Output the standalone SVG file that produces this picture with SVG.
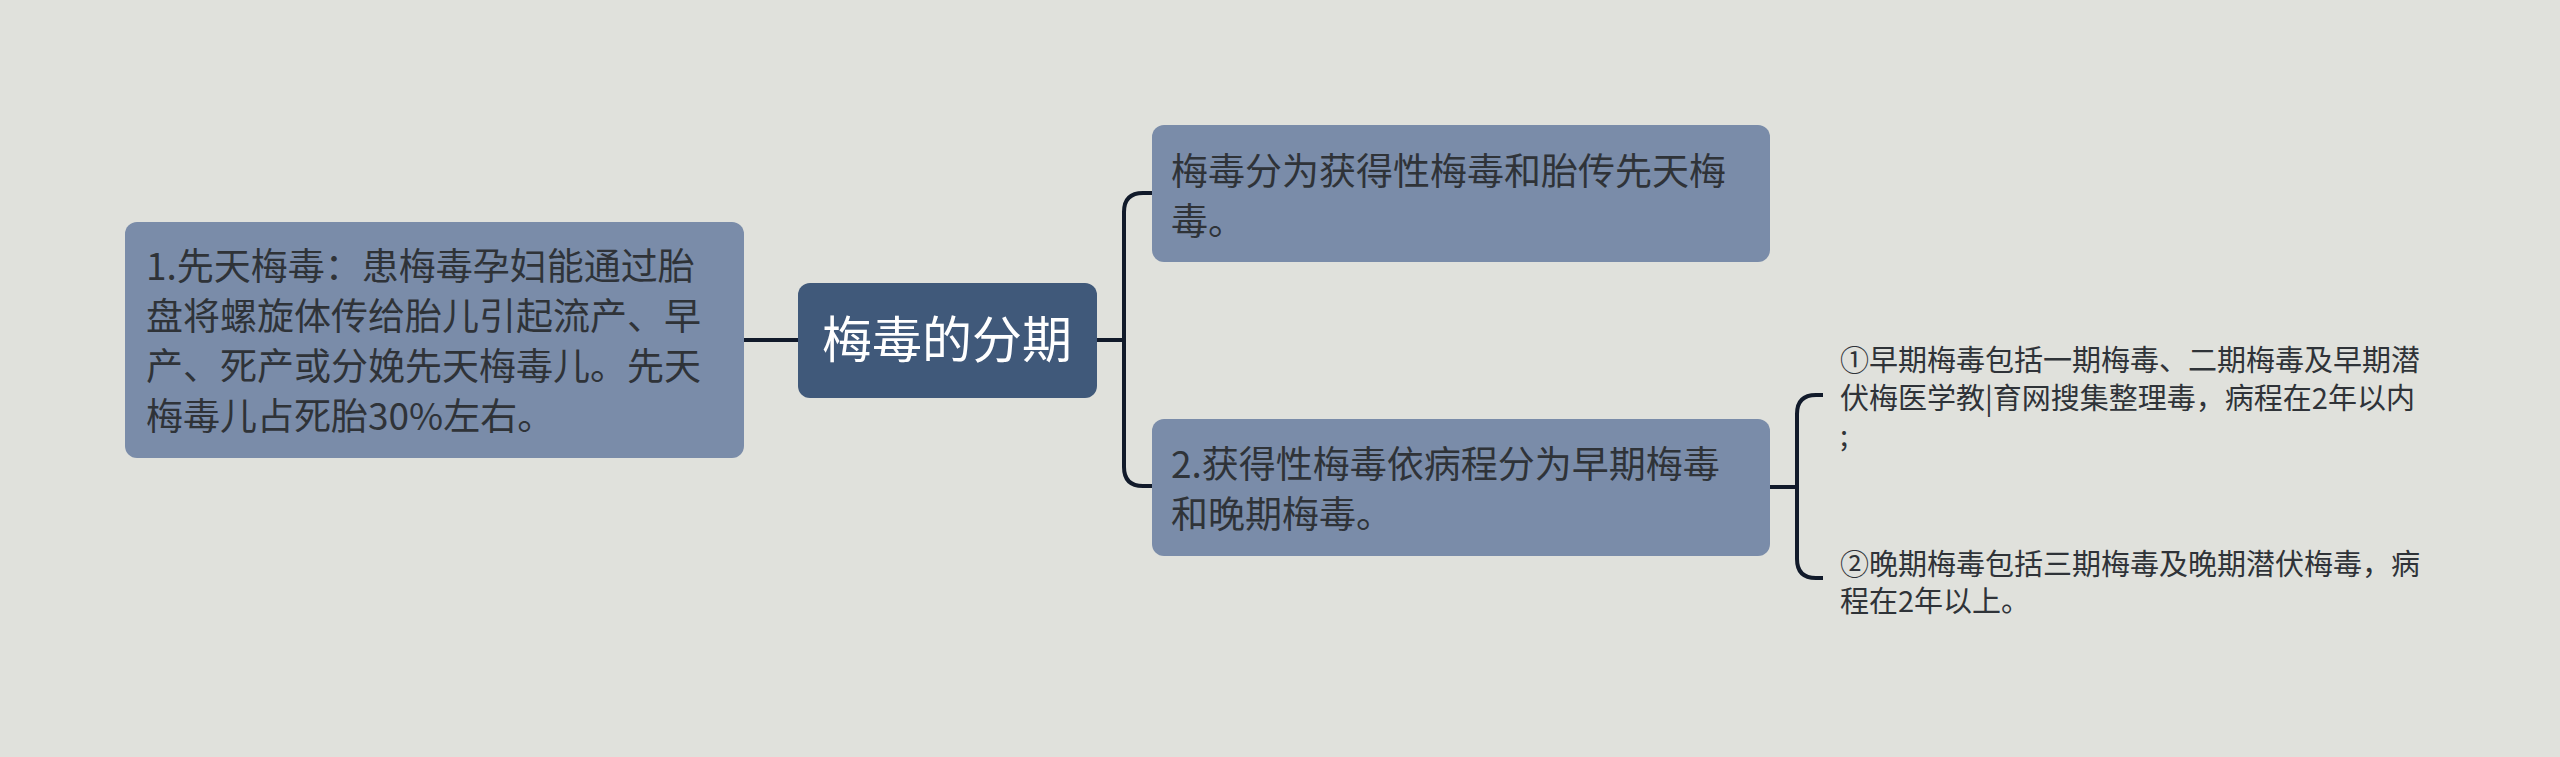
<svg xmlns="http://www.w3.org/2000/svg" width="2560" height="757" viewBox="0 0 2560 757">
<style>
.bg{fill:#e0e1dc}
.node{fill:#7a8ca9}
.root{fill:#40597a}
.t{font-family:"Noto Sans CJK SC","Liberation Sans",sans-serif;fill:#2f3338}
.n{font-size:37px}
.leaf{font-size:29px}
.rt{font-family:"Noto Sans CJK SC","Liberation Sans",sans-serif;font-size:50px;fill:#ffffff}
.c{fill:none;stroke:#111a2a;stroke-width:4;stroke-linecap:butt;stroke-linejoin:round}
</style>
<rect class="bg" x="0" y="0" width="2560" height="757"/>
<g id="connectors">
<path class="c" d="M744 340 H798"/>
<path class="c" d="M1097 340 H1124"/>
<path class="c" d="M1153 193 H1143 Q1124 193 1124 212 V467 Q1124 486 1143 486 H1153"/>
<path class="c" d="M1770 487 H1797"/>
<path class="c" d="M1823 395 H1816 Q1797 395 1797 414 V559 Q1797 578 1816 578 H1823"/>
</g>
<g id="root">
<rect class="root" x="798" y="283" width="299" height="115" rx="12"/>
<text class="rt" x="822" y="358">梅毒的分期</text>
</g>
<g id="left">
<rect class="node" x="125" y="222" width="619" height="236" rx="12"/>
<text class="t n" x="146" y="280">1.先天梅毒：患梅毒孕妇能通过胎</text>
<text class="t n" x="146" y="330">盘将螺旋体传给胎儿引起流产、早</text>
<text class="t n" x="146" y="380">产、死产或分娩先天梅毒儿。先天</text>
<text class="t n" x="146" y="430">梅毒儿占死胎30%左右。</text>
</g>
<g id="top">
<rect class="node" x="1152" y="125" width="618" height="137" rx="12"/>
<text class="t n" x="1171" y="185">梅毒分为获得性梅毒和胎传先天梅</text>
<text class="t n" x="1171" y="235">毒。</text>
</g>
<g id="bottom">
<rect class="node" x="1152" y="419" width="618" height="137" rx="12"/>
<text class="t n" x="1171" y="478">2.获得性梅毒依病程分为早期梅毒</text>
<text class="t n" x="1171" y="528">和晚期梅毒。</text>
</g>
<g id="leaf1">
<text class="t leaf" x="1840" y="371">①早期梅毒包括一期梅毒、二期梅毒及早期潜</text>
<text class="t leaf" x="1840" y="409">伏梅医学教|育网搜集整理毒，病程在2年以内</text>
<text class="t leaf" x="1840" y="446">;</text>
</g>
<g id="leaf2">
<text class="t leaf" x="1840" y="575">②晚期梅毒包括三期梅毒及晚期潜伏梅毒，病</text>
<text class="t leaf" x="1840" y="612">程在2年以上。</text>
</g>
</svg>
